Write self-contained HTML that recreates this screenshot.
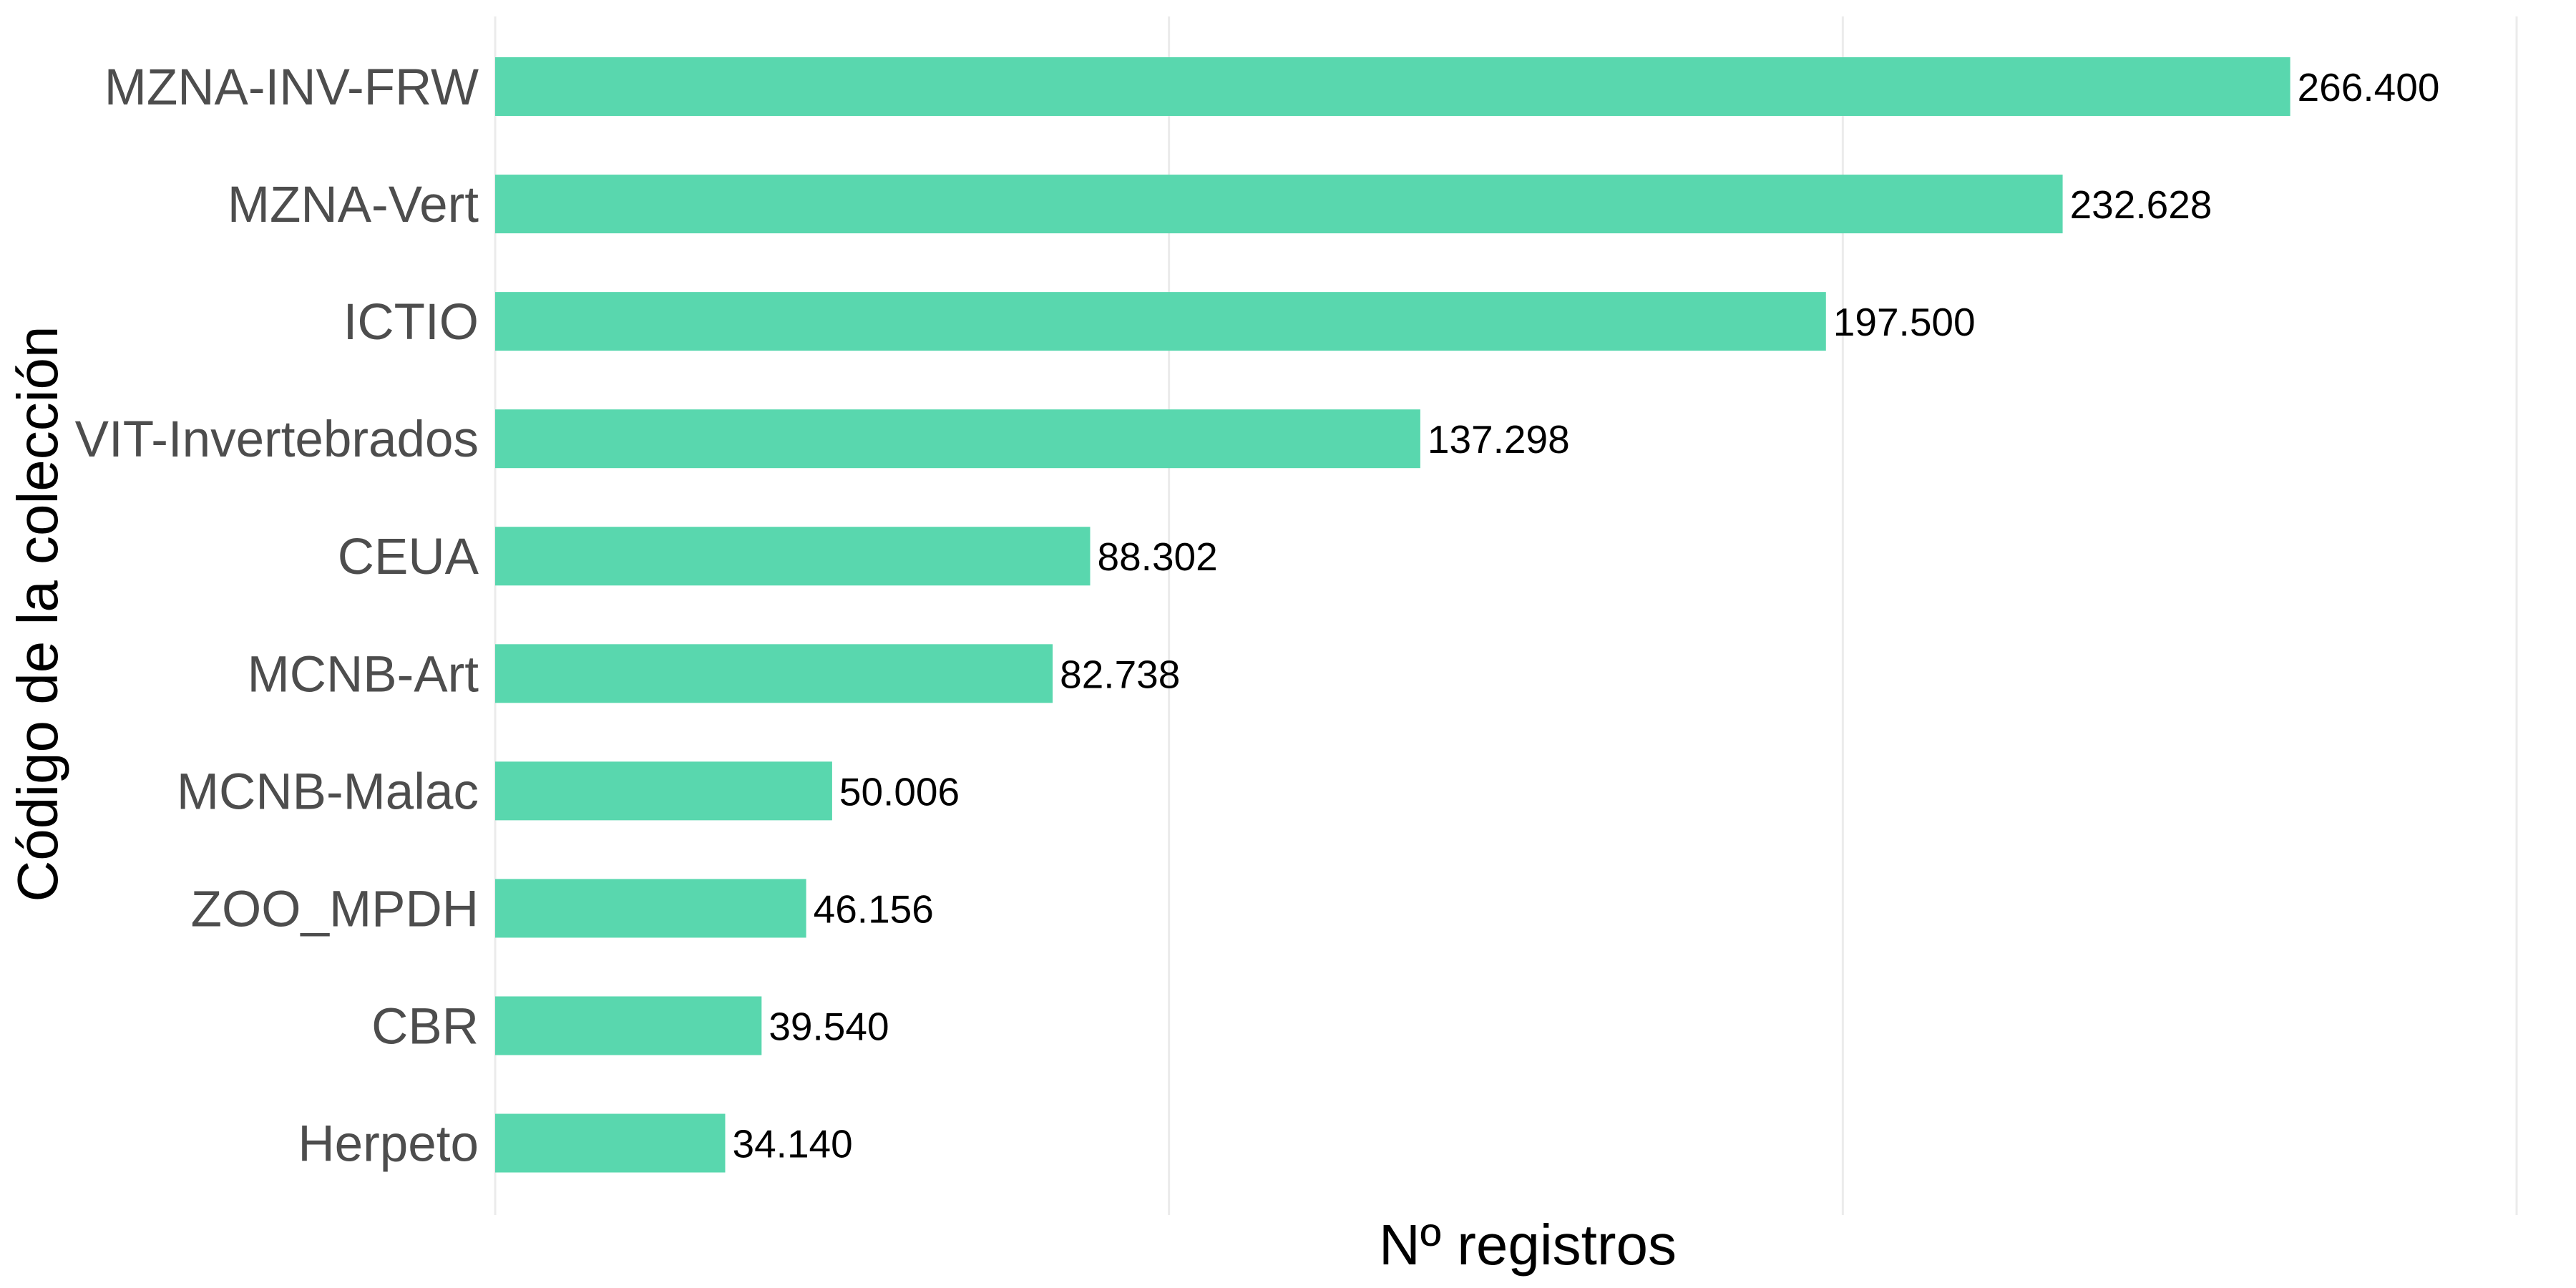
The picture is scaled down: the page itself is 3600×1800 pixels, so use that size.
<!DOCTYPE html>
<html><head><meta charset="utf-8"><style>
html,body{margin:0;padding:0;background:#fff;}
svg{display:block;font-family:"Liberation Sans",Arial,sans-serif;}
</style></head><body>
<svg id="chart" width="3600" height="1800" viewBox="0 0 3600 1800" xmlns="http://www.w3.org/2000/svg">
<g id="grid"></g>
<g id="bars"></g>
<g id="ylabels"></g>
<g id="vlabels"></g>
<text x="2135" y="1767" font-size="80" text-anchor="middle" fill="#000">Nº registros</text>
<text transform="translate(80,858) rotate(-90)" font-size="80" text-anchor="middle" fill="#000">Código de la colección</text>
</svg>
<script>
const categories = ["MZNA-INV-FRW","MZNA-Vert","ICTIO","VIT-Invertebrados","CEUA","MCNB-Art","MCNB-Malac","ZOO_MPDH","CBR","Herpeto"];
const values = [266400,232628,197500,137298,88302,82738,50006,46156,39540,34140];
const valueLabels = ["266.400","232.628","197.500","137.298","88.302","82.738","50.006","46.156","39.540","34.140"];
const gridTicks = [0,100000,200000,300000];

const NS="http://www.w3.org/2000/svg";
const x0=692, pxPerUnit=(3517-692)/300000;
const xScale=v=>x0+v*pxPerUnit;
const yTop=121, band=164.06, barH=82;
const yScale=i=>yTop+i*band;

const grid=document.getElementById('grid');
gridTicks.forEach(t=>{
  const l=document.createElementNS(NS,'line');
  
  
  l.setAttribute('x1',xScale(t));l.setAttribute('x2',xScale(t));
  l.setAttribute('y1',23);l.setAttribute('y2',1698);
  l.setAttribute('stroke','#ebebeb');l.setAttribute('stroke-width',3);
  grid.appendChild(l);
});
const bars=document.getElementById('bars'),yl=document.getElementById('ylabels'),vl=document.getElementById('vlabels');
categories.forEach((c,i)=>{
  const cy=yScale(i);
  const r=document.createElementNS(NS,'rect');
  
  
  r.setAttribute('x',x0);r.setAttribute('y',cy-barH/2);
  r.setAttribute('width',xScale(values[i])-x0);r.setAttribute('height',barH);
  r.setAttribute('fill','#59d7ae');
  bars.appendChild(r);
  const t=document.createElementNS(NS,'text');
  
  
  t.setAttribute('x',669);t.setAttribute('y',cy+25);
  t.setAttribute('font-size',71);t.setAttribute('text-anchor','end');t.setAttribute('fill','#4d4d4d');
  t.textContent=c;yl.appendChild(t);
  const v=document.createElementNS(NS,'text');
  
  
  v.setAttribute('x',xScale(values[i])+10);v.setAttribute('y',cy+20);
  v.setAttribute('font-size',55);v.setAttribute('fill','#000');
  v.textContent=valueLabels[i];vl.appendChild(v);
});
</script>
</body></html>
